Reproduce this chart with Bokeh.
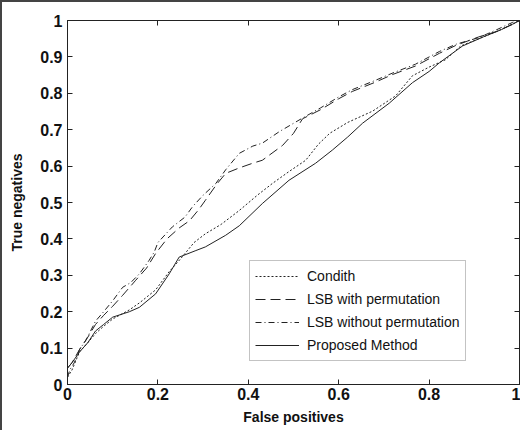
from bokeh.plotting import figure
from bokeh.models import Range1d, FixedTicker, LinearAxis, CustomJSTickFormatter
from bokeh.embed import file_html
from bokeh.resources import INLINE

ticks_x = [0, 0.2, 0.4, 0.6, 0.8, 1.0]
ticks_y = [0, 0.1, 0.2, 0.3, 0.4, 0.5, 0.6, 0.7, 0.8, 0.9, 1.0]

condith_x = [0, 0.01, 0.02, 0.027, 0.045, 0.062, 0.08, 0.1, 0.137, 0.16, 0.195, 0.225, 0.25, 0.28, 0.305,
             0.34, 0.38, 0.42, 0.453, 0.49, 0.527, 0.555, 0.58, 0.62, 0.675, 0.726, 0.763, 0.8, 0.836, 0.87,
             0.91, 0.95, 0.985, 1.0]
condith_y = [0.02, 0.04, 0.07, 0.09, 0.115, 0.14, 0.16, 0.18, 0.205, 0.225, 0.26, 0.31, 0.345, 0.39, 0.414,
             0.44, 0.478, 0.52, 0.552, 0.585, 0.616, 0.66, 0.69, 0.72, 0.751, 0.793, 0.848, 0.872, 0.892, 0.93,
             0.95, 0.97, 0.99, 1.0]

lsb_perm_x = [0, 0.01, 0.027, 0.045, 0.062, 0.08, 0.1, 0.122, 0.15, 0.175, 0.195, 0.22, 0.247, 0.27, 0.29,
              0.305, 0.33, 0.35, 0.38, 0.41, 0.431, 0.476, 0.5, 0.52, 0.56, 0.6, 0.63, 0.68, 0.72, 0.77, 0.823,
              0.86, 0.91, 0.95, 0.985, 1.0]
lsb_perm_y = [0.045, 0.06, 0.097, 0.13, 0.165, 0.19, 0.215, 0.245, 0.285, 0.32, 0.36, 0.40, 0.43, 0.45, 0.48,
              0.506, 0.55, 0.58, 0.595, 0.608, 0.616, 0.657, 0.69, 0.73, 0.755, 0.785, 0.805, 0.83, 0.852, 0.875,
              0.91, 0.932, 0.955, 0.97, 0.99, 1.0]

lsb_noperm_x = [0, 0.005, 0.015, 0.027, 0.04, 0.062, 0.08, 0.1, 0.122, 0.14, 0.159, 0.18, 0.192, 0.2, 0.232,
                0.26, 0.277, 0.3, 0.328, 0.35, 0.38, 0.41, 0.431, 0.469, 0.52, 0.56, 0.6, 0.63, 0.68, 0.72, 0.77,
                0.823, 0.86, 0.91, 0.95, 0.985, 1.0]
lsb_noperm_y = [0.02, 0.04, 0.06, 0.097, 0.12, 0.174, 0.2, 0.23, 0.267, 0.28, 0.304, 0.34, 0.364, 0.39, 0.433,
                0.46, 0.489, 0.52, 0.552, 0.59, 0.635, 0.655, 0.663, 0.695, 0.732, 0.76, 0.79, 0.81, 0.835, 0.856,
                0.88, 0.915, 0.935, 0.953, 0.975, 0.995, 1.0]

proposed_x = [0, 0.01, 0.027, 0.045, 0.062, 0.08, 0.1, 0.137, 0.159, 0.195, 0.225, 0.247, 0.284, 0.305, 0.35,
              0.38, 0.431, 0.49, 0.549, 0.586, 0.62, 0.653, 0.712, 0.763, 0.8, 0.823, 0.874, 0.92, 0.96, 0.985, 1.0]
proposed_y = [0.045, 0.06, 0.09, 0.115, 0.147, 0.165, 0.185, 0.2, 0.212, 0.249, 0.304, 0.35, 0.368, 0.378, 0.41,
              0.436, 0.497, 0.561, 0.608, 0.644, 0.68, 0.718, 0.773, 0.829, 0.86, 0.884, 0.93, 0.955, 0.975, 0.99, 1.0]

FONT = "Liberation Sans"
INK = "#222222"

p = figure(width=520, height=430, output_backend="svg", toolbar_location=None,
           x_range=Range1d(0, 1), y_range=Range1d(0, 1),
           min_border_left=65, min_border_right=3, min_border_top=18, min_border_bottom=48)
p.styles = {"border-left": "2px solid #444", "border-top": "2px solid #444"}
p.grid.visible = False
p.outline_line_color = INK
p.background_fill_color = "white"
p.border_fill_color = "white"

fmt = CustomJSTickFormatter(code="return tick.toFixed(1).replace(/\\.0$/, '');")
blank = CustomJSTickFormatter(code="return '';")

for ax, tk in ((p.xaxis[0], ticks_x), (p.yaxis[0], ticks_y)):
    ax.ticker = FixedTicker(ticks=tk)
    ax.formatter = fmt
    ax.minor_tick_line_color = None
    ax.major_tick_in = 5
    ax.major_tick_out = 0
    ax.major_tick_line_color = INK
    ax.axis_line_color = INK
    ax.major_label_text_font = FONT
    ax.major_label_text_font_style = "bold"
    ax.major_label_text_font_size = "16px"
    ax.major_label_text_color = "#111111"
    ax.axis_label_text_font = FONT
    ax.axis_label_text_font_style = "bold"
    ax.axis_label_text_font_size = "14px"
    ax.axis_label_text_color = "#111111"

p.xaxis.axis_label = "False positives"
p.yaxis.axis_label = "True negatives"
p.xaxis.major_label_standoff = 3
p.yaxis.major_label_standoff = 5
p.xaxis.axis_label_standoff = 6
p.yaxis.axis_label_standoff = 12

for loc, tk in (("right", ticks_y), ("above", ticks_x)):
    ax = LinearAxis(ticker=FixedTicker(ticks=tk), formatter=blank,
                    major_tick_in=5, major_tick_out=0, minor_tick_line_color=None,
                    major_tick_line_color=INK, axis_line_color=INK, major_label_standoff=0)
    p.add_layout(ax, loc)

p.line(condith_x, condith_y, line_color=INK, line_width=1, line_dash="2 2", legend_label="Condith")
p.line(lsb_perm_x, lsb_perm_y, line_color=INK, line_width=1, line_dash="10 5", legend_label="LSB with permutation")
p.line(lsb_noperm_x, lsb_noperm_y, line_color=INK, line_width=1, line_dash="6 3 1 3", legend_label="LSB without permutation")
p.line(proposed_x, proposed_y, line_color=INK, line_width=1, legend_label="Proposed Method")

lg = p.legend[0]
lg.location = (182, 23)
lg.margin = 0
lg.padding = 5
lg.spacing = 3
lg.glyph_width = 44
lg.glyph_height = 20
lg.label_height = 20
lg.label_standoff = 8
lg.label_text_font = FONT
lg.label_text_font_size = "14px"
lg.label_text_color = "#111111"
lg.border_line_color = "#888888"
lg.border_line_width = 1
lg.background_fill_color = "white"
lg.background_fill_alpha = 1

open("out.html", "w").write(file_html(p, INLINE))
